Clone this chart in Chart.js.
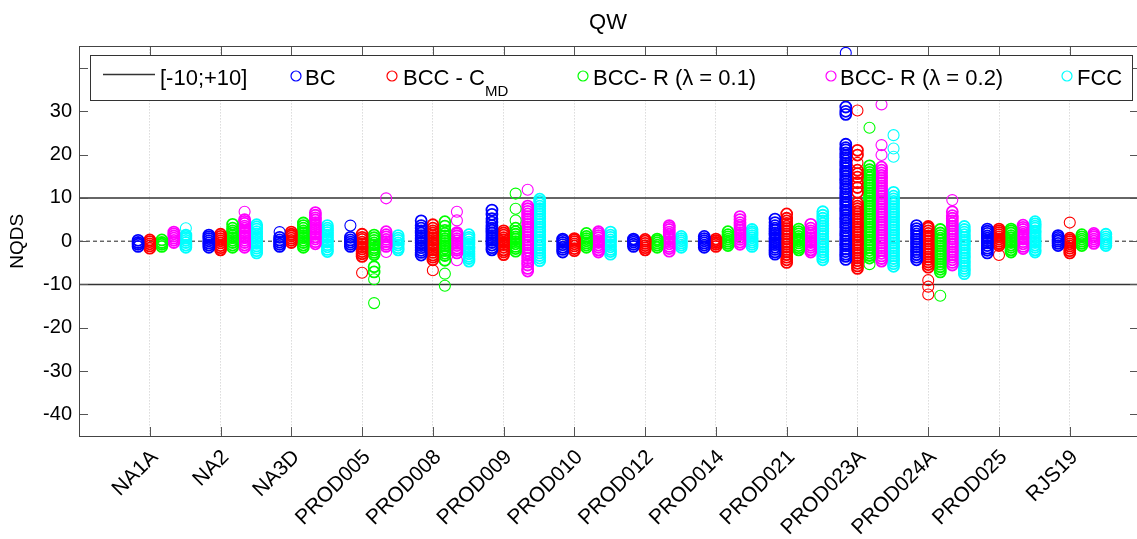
<!DOCTYPE html>
<html>
<head>
<meta charset="utf-8">
<script src="https://cdn.jsdelivr.net/npm/chart.js@4.4.1/dist/chart.umd.min.js"></script>
<style>
  html, body { margin: 0; padding: 0; background: #fff; overflow: hidden; }
</style>
</head>
<body>
<canvas id="grafica" width="1137" height="539"></canvas>
<script>
// CATEGORIAS
const categories = ["NA1A", "NA2", "NA3D", "PROD005", "PROD008", "PROD009", "PROD010",
  "PROD012", "PROD014", "PROD021", "PROD023A", "PROD024A", "PROD025", "RJS19"];

// y ticks
const yTicks = [-40, -30, -20, -10, 0, 10, 20, 30, 40];
const limits = [-10, 10];
const zeroLine = 0;

// SERIES (one list of NQDS values per category)
const bc = [
  [-1.2, -0.7, -0.3, 0.2],
  [-1.4, -0.9, -0.4, 0.1, 0.6, 1.0, 1.4],
  [-1.2, -0.7, -0.2, 0.3, 0.9, 2.1],
  [-1.2, -0.7, -0.2, 0.3, 0.9, 3.6],
  [-3.2, -2.6, -2.1, -1.5, -1.0, -0.4, 0.2, 0.7, 1.3, 1.9, 2.4, 3.0, 3.6, 4.7],
  [-2.0, -1.5, -0.9, -0.3, 0.2, 0.8, 1.3, 1.9, 2.5, 3.0, 3.6, 4.4, 5.2, 6.2, 7.2],
  [-2.5, -1.9, -1.4, -0.8, -0.3, 0.2, 0.5],
  [-1.2, -0.7, -0.2, 0.2, 0.5],
  [-1.4, -0.9, -0.4, 0.1, 0.6, 1.1],
  [-3.0, -2.5, -1.9, -1.4, -0.8, -0.3, 0.3, 0.8, 1.4, 1.9, 2.5, 3.0, 3.6, 4.3, 5.1],
  [-4.2, -3.5, -3.0, -2.4, -1.8, -1.1, -0.6, 0.0, 0.6, 1.3, 1.8, 2.4, 3.1, 3.6, 4.2, 4.9, 5.4,
    6.0, 6.7, 7.2, 7.8, 8.5, 9.0, 9.6, 10.3, 10.8, 11.4, 12.1, 12.6, 13.2, 13.9, 14.4, 15.0,
    15.7, 16.2, 16.8, 17.5, 18.0, 18.6, 19.3, 19.8, 20.4, 21.1, 21.6, 22.4, 29.3, 30.0, 31.0, 43.5],
  [-4.3, -3.7, -3.1, -2.5, -1.9, -1.3, -0.7, -0.1, 0.5, 1.1, 1.7, 2.3, 2.9, 3.6],
  [-2.7, -2.1, -1.6, -1.0, -0.4, 0.1, 0.7, 1.2, 1.8, 2.3, 2.8],
  [-1.0, -0.5, 0.0, 0.4, 0.9, 1.3]
];
const bccCmd = [
  [-1.6, -1.1, -0.6, -0.1, 0.3],
  [-2.0, -1.5, -1.0, -0.4, 0.1, 0.6, 1.1, 1.6],
  [-0.3, 0.2, 0.7, 1.2, 1.6, 2.1],
  [-7.3, -3.5, -2.9, -2.4, -1.8, -1.3, -0.7, -0.2, 0.4, 0.9, 1.6],
  [-6.7, -4.3, -3.7, -3.2, -2.6, -2.0, -1.5, -0.9, -0.4, 0.2, 0.8, 1.3, 1.9, 2.4, 3.0, 3.8],
  [-3.1, -2.5, -2.0, -1.4, -0.8, -0.3, 0.3, 0.8, 1.4, 1.9, 2.4],
  [-2.2, -1.7, -1.1, -0.6, -0.1, 0.3, 0.6],
  [-2.0, -1.5, -1.0, -0.5, 0.0, 0.4],
  [-1.2, -0.7, -0.3, 0.1, 0.5],
  [-4.9, -4.3, -3.7, -3.1, -2.5, -1.9, -1.3, -0.7, -0.1, 0.5, 1.1, 1.7, 2.3, 2.9, 3.5, 4.1, 4.7, 5.3, 6.3],
  [-6.3, -5.7, -5.1, -4.5, -3.9, -3.3, -2.7, -2.1, -1.5, -0.9, -0.3, 0.3, 0.9, 1.5, 2.1, 2.7,
    3.3, 3.9, 4.5, 5.1, 5.7, 6.3, 6.9, 7.5, 8.1, 8.8, 11.3, 12.4, 13.5, 14.8, 15.6, 16.4, 18.1,
    19.9, 21.0, 30.2],
  [-12.3, -10.5, -9.0, -6.0, -5.4, -4.8, -4.2, -3.6, -3.0, -2.4, -1.8, -1.2, -0.6, 0.0, 0.6,
    1.2, 1.8, 2.4, 3.0, 3.4],
  [-3.2, -1.0, -0.5, 0.0, 0.5, 1.0, 1.5, 2.0, 2.4, 2.8],
  [-2.7, -2.2, -1.6, -1.1, -0.6, -0.1, 0.3, 0.7, 4.3]
];
const bccR01 = [
  [-1.2, -0.7, -0.3, 0.3],
  [-1.4, -0.9, -0.3, 0.2, 0.8, 1.3, 1.9, 2.4, 3.0, 3.9],
  [-1.4, -0.9, -0.3, 0.2, 0.8, 1.3, 1.9, 2.4, 3.0, 3.6, 4.2],
  [-14.3, -8.8, -7.1, -5.9, -3.1, -2.6, -2.0, -1.5, -0.9, -0.4, 0.2, 0.8, 1.4],
  [-10.3, -7.5, -4.4, -3.3, -2.8, -2.2, -1.6, -1.1, -0.5, 0.1, 0.6, 1.2, 1.8, 2.5, 3.5, 4.5],
  [-2.3, -1.7, -1.2, -0.6, -0.1, 0.5, 1.0, 1.6, 2.2, 3.0, 4.8, 7.5, 11.0],
  [-1.4, -0.9, -0.4, 0.1, 0.6, 1.1, 1.8],
  [-1.4, -0.9, -0.4, 0.1, 0.5],
  [-1.0, -0.5, 0.0, 0.5, 1.0, 1.5, 2.2],
  [-2.0, -1.5, -1.0, -0.4, 0.1, 0.6, 1.1, 1.7, 2.2, 2.8],
  [-5.3, -3.9, -3.3, -2.7, -2.1, -1.5, -0.9, -0.3, 0.3, 0.9, 1.5, 2.1, 2.7, 3.3, 3.9, 4.5,
    5.1, 5.7, 6.3, 6.9, 7.5, 8.1, 8.7, 9.3, 9.9, 10.5, 11.1, 11.7, 12.3, 12.9, 13.5, 14.1,
    14.7, 15.3, 15.9, 16.5, 17.4, 26.2],
  [-12.6, -7.1, -6.5, -5.9, -5.3, -4.7, -4.1, -3.5, -2.9, -2.3, -1.7, -1.1, -0.5, 0.1, 0.7, 1.3, 1.9, 2.7],
  [-2.5, -2.0, -1.4, -0.9, -0.3, 0.2, 0.8, 1.3, 1.9, 2.4, 2.8],
  [-1.0, -0.5, 0.0, 0.5, 1.0, 1.5]
];
const bccR02 = [
  [-0.3, 0.2, 0.7, 1.2, 1.7, 2.1],
  [-1.4, -0.9, -0.3, 0.2, 0.8, 1.3, 1.9, 2.4, 3.0, 3.5, 4.1, 4.6, 5.0, 6.8],
  [-0.6, -0.1, 0.5, 1.0, 1.6, 2.1, 2.7, 3.2, 3.8, 4.3, 4.9, 5.4, 6.0, 6.6],
  [-2.5, -1.2, -0.7, -0.1, 0.4, 1.0, 1.5, 2.2, 9.9],
  [-4.4, -2.7, -2.1, -1.6, -1.0, -0.5, 0.1, 0.6, 1.2, 1.7, 2.0, 4.8, 6.8],
  [-6.9, -6.3, -5.5, -4.8, -4.0, -3.3, -2.7, -2.1, -1.5, -0.9, -0.3, 0.3, 0.9, 1.5, 2.1, 2.7,
    3.3, 3.9, 4.5, 5.1, 5.7, 6.3, 6.9, 7.5, 8.1, 11.9],
  [-2.5, -2.0, -1.4, -0.9, -0.3, 0.2, 0.8, 1.3, 1.8, 2.2],
  [-2.3, -1.7, -1.2, -0.6, -0.1, 0.5, 1.0, 1.6, 2.1, 2.7, 3.2, 3.6],
  [-0.7, -0.2, 0.4, 0.9, 1.5, 2.0, 2.6, 3.1, 3.7, 4.3, 5.0, 5.7],
  [-2.5, -2.0, -1.4, -0.9, -0.3, 0.2, 0.8, 1.3, 1.9, 2.4, 3.0, 3.9],
  [-4.6, -4.0, -3.4, -2.8, -2.2, -1.6, -1.0, -0.4, 0.2, 0.8, 1.4, 2.0, 2.6, 3.2, 3.8, 4.4,
    5.0, 5.6, 6.2, 6.8, 7.4, 8.0, 8.6, 9.2, 9.8, 10.4, 11.0, 11.6, 12.2, 12.8, 13.4, 14.0,
    14.6, 15.2, 15.8, 16.4, 17.1, 19.9, 22.2, 31.6],
  [-5.5, -4.9, -4.3, -3.7, -3.1, -2.5, -1.9, -1.3, -0.7, -0.1, 0.5, 1.1, 1.7, 2.3, 2.9, 3.5,
    4.1, 4.7, 5.3, 5.9, 6.8, 9.5],
  [-1.7, -1.2, -0.6, -0.1, 0.5, 1.0, 1.6, 2.1, 2.7, 3.2, 3.7],
  [-0.5, 0.0, 0.5, 1.0, 1.4, 1.8]
];
const fcc = [
  [-1.4, -0.9, -0.3, 0.2, 0.7, 1.1, 1.4, 3.0],
  [-2.7, -2.2, -1.6, -1.1, -0.5, 0.0, 0.6, 1.1, 1.7, 2.2, 2.8, 3.3, 3.8],
  [-2.4, -1.9, -1.3, -0.8, -0.2, 0.3, 0.9, 1.4, 2.0, 2.5, 3.0, 3.6],
  [-2.0, -1.5, -0.9, -0.4, 0.2, 0.7, 1.3],
  [-4.6, -4.0, -3.5, -2.9, -2.4, -1.8, -1.3, -0.7, -0.2, 0.4, 0.9, 1.5],
  [-4.5, -3.9, -3.3, -2.7, -2.1, -1.5, -0.9, -0.3, 0.3, 0.9, 1.5, 2.1, 2.7, 3.3, 3.9, 4.5,
    5.1, 5.7, 6.3, 6.9, 7.5, 8.1, 8.7, 9.2, 9.7],
  [-3.0, -2.4, -1.9, -1.3, -0.8, -0.2, 0.3, 0.9, 1.4, 2.1],
  [-1.4, -0.9, -0.4, 0.1, 0.6, 1.1],
  [-1.2, -0.7, -0.2, 0.3, 0.8, 1.3, 1.8, 2.2, 2.7],
  [-4.3, -3.7, -3.1, -2.5, -1.9, -1.3, -0.7, -0.1, 0.5, 1.1, 1.7, 2.3, 2.9, 3.5, 4.1, 4.7, 5.3, 6.0, 6.8],
  [-5.8, -5.2, -4.6, -4.0, -3.4, -2.8, -2.2, -1.6, -1.0, -0.4, 0.2, 0.8, 1.4, 2.0, 2.6, 3.2,
    3.8, 4.4, 5.0, 5.6, 6.2, 6.8, 7.4, 8.0, 8.6, 9.2, 9.8, 10.4, 11.3, 19.5, 21.4, 24.5],
  [-7.5, -6.9, -6.3, -5.7, -5.1, -4.5, -3.9, -3.3, -2.7, -2.1, -1.5, -0.9, -0.3, 0.3, 0.9,
    1.5, 2.1, 2.7, 3.4],
  [-2.5, -2.0, -1.4, -0.9, -0.3, 0.2, 0.8, 1.3, 1.9, 2.4, 3.0, 3.5, 4.0, 4.5],
  [-1.0, -0.5, 0.0, 0.5, 1.0, 1.6]
];

const FONT = '"Liberation Sans", Arial, Helvetica, sans-serif';
Chart.defaults.font.family = FONT;
Chart.defaults.color = "#000";

// the axis goes a bit past the right edge of the picture
const X_MIN = 0, X_MAX = 14.95;

// series style + horizontal offset inside each category
const series = [
  { nombre: "BC", datos: bc, color: "#0000ff", dx: -0.165 },
  { nombre: "BCC - C", sub: "MD", datos: bccCmd, color: "#ff0000", dx: 0 },
  { nombre: "BCC- R (\u03bb = 0.1)", datos: bccR01, color: "#00ff00", dx: 0.17 },
  { nombre: "BCC- R (\u03bb = 0.2)", datos: bccR02, color: "#ff00ff", dx: 0.34 },
  { nombre: "FCC", datos: fcc, color: "#00ffff", dx: 0.51 }
];

const datasets = [];
limits.forEach((lim) => {
  datasets.push({
    type: "line", data: [{ x: X_MIN, y: lim }, { x: X_MAX, y: lim }],
    borderColor: "#333", borderWidth: 1.5, pointRadius: 0, order: 10
  });
});
datasets.push({
  type: "line", data: [{ x: X_MIN, y: zeroLine }, { x: X_MAX, y: zeroLine }],
  borderColor: "#222", borderWidth: 1, borderDash: [4, 3], pointRadius: 0, order: 10
});
series.forEach((s) => {
  const pts = [], anchos = [];
  s.datos.forEach((vals, i) => {
    vals.forEach((v) => {
      pts.push({ x: i + 1 + s.dx, y: v });
      // los circulos sueltos van finos, los apilados mas gruesos para que la columna se vea llena
      const suelto = !vals.some((w) => w !== v && Math.abs(w - v) < 1.2);
      anchos.push(suelto ? 1.1 : 1.8);
    });
  });
  datasets.push({
    type: "scatter", data: pts,
    borderColor: s.color, backgroundColor: "rgba(0,0,0,0)",
    pointStyle: "circle", pointRadius: 5.5, pointBorderWidth: anchos, order: 1
  });
});

// caja, ticks hacia adentro y leyenda dentro del grafico
const cajaLeyenda = {
  id: "cajaLeyenda",
  afterDraw(chart) {
    const { ctx, chartArea: a, scales } = chart;
    const line = (x1, y1, x2, y2) => { ctx.beginPath(); ctx.moveTo(x1, y1); ctx.lineTo(x2, y2); ctx.stroke(); };
    ctx.save();
    ctx.strokeStyle = "#555";
    ctx.lineWidth = 1;
    scales.y.ticks.forEach((t) => {
      const py = Math.round(scales.y.getPixelForValue(t.value)) + 0.5;
      line(a.left, py, a.left + 9, py);
      line(a.right - 7, py, a.right, py);
    });
    scales.x.ticks.forEach((t) => {
      const px = Math.round(scales.x.getPixelForValue(t.value)) + 0.5;
      line(px, a.bottom, px, a.bottom - 9);
      line(px, a.top, px, a.top + 9);
    });
    ctx.strokeStyle = "#444";
    ctx.strokeRect(Math.round(a.left) + 0.5, Math.round(a.top) + 0.5,
      Math.round(a.right - a.left) + 4, Math.round(a.bottom - a.top));

    // leyenda
    const bx = Math.round(a.left) + 11, by = Math.round(a.top) + 9;
    ctx.fillStyle = "#fff";
    ctx.fillRect(bx, by, 1042, 45);
    ctx.strokeStyle = "#333";
    ctx.strokeRect(bx + 0.5, by + 0.5, 1042, 45);

    ctx.strokeStyle = "#333";
    ctx.lineWidth = 1.5;
    line(bx + 13, by + 19.5, bx + 65, by + 19.5);
    ctx.fillStyle = "#000";
    ctx.font = "22px " + FONT;
    ctx.textBaseline = "alphabetic";
    ctx.fillText("[-10;+10]", bx + 70, by + 30);

    const pos = [[206, 215], [302, 313], [493, 503], [741, 750], [977, 987]];
    series.forEach((s, k) => {
      ctx.beginPath();
      ctx.strokeStyle = s.color;
      ctx.lineWidth = 1.2;
      ctx.arc(bx + pos[k][0], by + 21, 5, 0, Math.PI * 2);
      ctx.stroke();
      ctx.font = "22px " + FONT;
      ctx.fillStyle = "#000";
      ctx.fillText(s.nombre, bx + pos[k][1], by + 30);
      if (s.sub) {
        const w = ctx.measureText(s.nombre).width;
        ctx.font = "15px " + FONT;
        ctx.fillText(s.sub, bx + pos[k][1] + w, by + 41);
      }
    });
    ctx.restore();
  }
};

new Chart(document.getElementById("grafica"), {
  type: "scatter",
  data: { datasets },
  plugins: [cajaLeyenda],
  options: {
    responsive: false,
    animation: false,
    layout: { autoPadding: false, padding: { right: 0, left: 0, top: 0, bottom: 0 } },
    plugins: {
      legend: { display: false },
      tooltip: { enabled: false },
      title: {
        display: true, text: "QW", fullSize: false, color: "#000",
        font: { size: 22, weight: "normal" }, padding: { top: 10, bottom: 10 }
      }
    },
    scales: {
      x: {
        type: "linear", min: X_MIN, max: X_MAX,
        afterBuildTicks: (s) => { s.ticks = categories.map((c, i) => ({ value: i + 1 })); },
        afterFit: (s) => { s.height = 103; s.paddingRight = 0; s.paddingLeft = 0; },
        ticks: {
          autoSkip: false, minRotation: 45, maxRotation: 45, padding: 9, labelOffset: 5,
          color: "#000", font: { size: 21 },
          callback: (v) => categories[v - 1] || ""
        },
        grid: { color: "#c8c8c8", lineWidth: 1, drawTicks: false },
        border: { display: false, dash: [1, 2] }
      },
      y: {
        min: -45, max: 45,
        afterBuildTicks: (s) => { s.ticks = yTicks.map((v) => ({ value: v })); },
        afterFit: (s) => { s.width = 79; },
        ticks: {
          padding: 7, color: "#000", font: { size: 20 },
          callback: (v) => (v === 40 ? "" : v)
        },
        grid: { display: false, drawTicks: false },
        border: { display: false },
        title: {
          display: true, text: "NQDS", color: "#000",
          font: { size: 19 }, padding: { top: 6, bottom: 0 }
        }
      }
    }
  }
});
</script>
</body>
</html>
